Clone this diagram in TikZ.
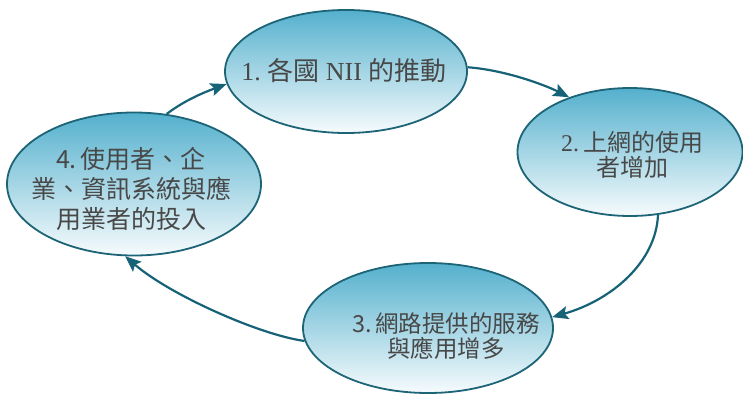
\documentclass[tikz,border=0pt]{standalone}
\usepackage{fontspec}
\setmainfont{Liberation Serif}
\newfontfamily\cjk{Noto Sans CJK TC}
\usetikzlibrary{shapes.geometric,arrows.meta}
\definecolor{edgec}{RGB}{28,100,118}
\definecolor{arrc}{RGB}{22,98,118}
\definecolor{topc}{RGB}{84,176,205}
\definecolor{midc}{RGB}{155,213,230}
\definecolor{botc}{RGB}{246,251,253}
\definecolor{txtc}{RGB}{72,72,72}
\begin{document}
\begin{tikzpicture}[x=1pt,y=-1pt,
  bubble/.style={ellipse, draw=edgec, line width=1.8pt, top color=topc, middle color=midc, bottom color=botc, inner sep=0pt},
  label text/.style={text=txtc, align=center, inner sep=0pt},
  link/.style={draw=arrc, line width=2.2pt, -{Stealth[length=16pt,width=13pt,inset=3pt]}}]
\useasboundingbox (0,0) rectangle (743,396);
\node[bubble, minimum width=242pt, minimum height=123pt] (e1) at (346,71.5) {};
\node[bubble, minimum width=225pt, minimum height=128pt] (e2) at (630,152) {};
\node[bubble, minimum width=250pt, minimum height=130pt] (e3) at (428,328) {};
\node[bubble, minimum width=254pt, minimum height=143pt] (e4) at (134,184) {};
\node[label text, font=\fontsize{26}{30}\selectfont] (t1) at (344,71) {1.\ {\cjk 各國} NII {\cjk 的推動}};
\node[label text, font=\fontsize{24}{25}\selectfont] (t2) at (632,155) {2.\,{\cjk 上網的使用}\\{\cjk 者增加}};
\node[label text, font=\fontsize{23.5}{25}\selectfont\cjk] (t3) at (446,336) {3.\,網路提供的服務\\與應用增多};
\node[label text, font=\fontsize{25}{30}\selectfont\cjk] (t4) at (131,189) {4.\,使用者、企\\業、資訊系統與應\\用業者的投入};
\draw[link] (e4.65) .. controls (185,100) and (205,92) .. (e1.186);
\draw[link] (e1.2) .. controls (505,70) and (545,85) .. (e2.138);
\draw[link] (e2.294) .. controls (656,262) and (612,300) .. (e3.5);
\draw[link] (e3.186) .. controls (260,335) and (170,295) .. (e4.263);
\end{tikzpicture}
\end{document}
